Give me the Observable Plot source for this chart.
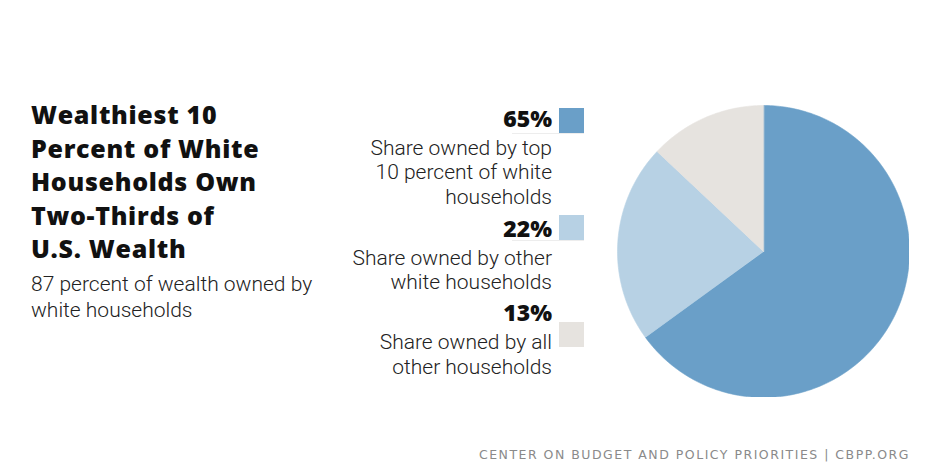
<!DOCTYPE html>
<html>
<head>
<meta charset="utf-8">
<script src="https://cdn.jsdelivr.net/npm/d3@7"></script>
<script src="https://cdn.jsdelivr.net/npm/@observablehq/plot@0.6"></script>
<style>
  html, body { margin: 0; padding: 0; background: #fff; }
  #wrap { position: relative; width: 940px; height: 470px; overflow: hidden; background: #fff; color: #111; }
  .abs { position: absolute; white-space: nowrap; }
  .title { font-family: "Open Sans", sans-serif; font-weight: 800; font-size: 25px; letter-spacing: 0.7px; line-height: 33.5px; color: #111; }
  .sub { font-family: Roboto, sans-serif; font-weight: 300; font-size: 21px; line-height: 26px; color: #222; }
  .pct { font-family: "Open Sans", sans-serif; font-weight: 800; font-size: 23px; line-height: 25px; text-align: right; color: #111; }
  .desc { font-family: Roboto, sans-serif; font-weight: 300; font-size: 21px; line-height: 24.5px; text-align: right; color: #222; }
  .sw { position: absolute; width: 25px; height: 25px; }
  .rule { position: absolute; height: 1px; background: #ededed; }
  .foot { font-family: "DejaVu Sans", sans-serif; font-weight: 400; font-size: 12.5px; letter-spacing: 1.5px; color: #8a8a8a; }
</style>
</head>
<body>
<div id="wrap"></div>
<script>
// ---- data ----
const categories = ["Top 10 percent of white households", "Other white households", "All other households"];
const shares = [65, 22, 13];
const shareLabels = ["65%", "22%", "13%"];
const descriptions = [
  ["Share owned by top", "10 percent of white", "households"],
  ["Share owned by other", "white households"],
  ["Share owned by all", "other households"]
];
const colors = ["#6a9fc8", "#b7d1e4", "#e6e3df"];
const titleLines = ["Wealthiest 10", "Percent of White", "Households Own", "Two-Thirds of", "U.S. Wealth"];
const subtitleLines = ["87 percent of wealth owned by", "white households"];
const footer = "CENTER ON BUDGET AND POLICY PRIORITIES | CBPP.ORG";

// ---- layout ----
const wrap = document.getElementById("wrap");
function addDiv(cls, html, style) {
  const d = document.createElement("div");
  d.className = cls;
  d.innerHTML = html;
  Object.assign(d.style, style);
  wrap.appendChild(d);
  return d;
}

addDiv("abs title", titleLines.join("<br>"), {left: "31px", top: "98px"});
addDiv("abs sub", subtitleLines.join("<br>"), {left: "31px", top: "271px"});

const pctTops = [106, 216, 300];
const descTops = [135.5, 245.5, 330];
const swTops = [108, 215, 322];
shares.forEach((s, i) => {
  addDiv("abs pct", shareLabels[i], {right: "388px", top: pctTops[i] + "px"});
  addDiv("abs desc", descriptions[i].join("<br>"), {right: "388px", top: descTops[i] + "px"});
  if (i < 2) addDiv("rule", "", {left: "512px", width: "72px", top: (swTops[i] + 25) + "px"});
  addDiv("sw", "", {left: "559px", top: swTops[i] + "px", background: colors[i]});
});

addDiv("abs foot", footer, {right: "30px", top: "447px"});

// ---- pie via Plot ----
const total = d3.sum(shares);
const pts = [];
let cum = 0;
shares.forEach((s, i) => {
  const a0 = (cum / total) * 2 * Math.PI;
  const a1 = ((cum + s) / total) * 2 * Math.PI;
  pts.push({category: categories[i], x: 0, y: 0});
  const n = Math.max(2, Math.ceil(s * 4));
  for (let k = 0; k <= n; k++) {
    const a = a0 + (a1 - a0) * k / n;
    pts.push({category: categories[i], x: Math.sin(a), y: Math.cos(a)});
  }
  cum += s;
});

const size = 292;
const pie = Plot.plot({
  width: size,
  height: size,
  margin: 0,
  x: {domain: [-1, 1], axis: null},
  y: {domain: [-1, 1], axis: null},
  color: {domain: categories, range: colors},
  marks: [
    Plot.line(pts, {x: "x", y: "y", z: "category", fill: "category", stroke: "category", strokeWidth: 0.6, curve: "linear-closed"})
  ]
});
pie.style.position = "absolute";
pie.style.left = "617px";
pie.style.top = "105px";
pie.style.background = "transparent";
wrap.appendChild(pie);
</script>
</body>
</html>
